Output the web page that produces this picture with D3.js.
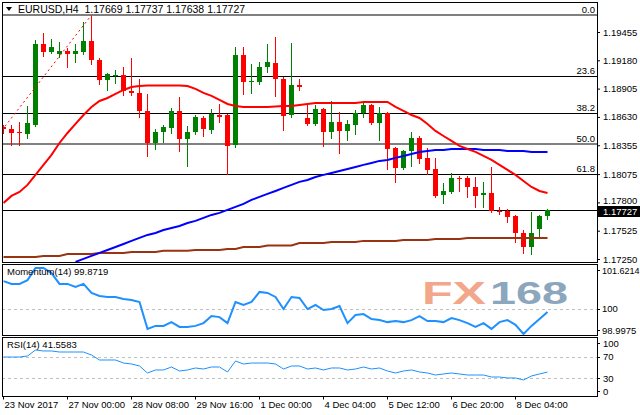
<!DOCTYPE html>
<html><head><meta charset="utf-8">
<script src="https://cdn.jsdelivr.net/npm/d3@7"></script>
<style>
html,body{margin:0;padding:0;background:#fff;}
svg{display:block;}
text{font-family:"Liberation Sans",Arial,sans-serif;font-size:9.5px;fill:#000;}
</style></head><body>
<svg id="c" width="640" height="415"></svg>
<script>
const symbol = "EURUSD,H4";
const lastOHLC = [1.17669, 1.17737, 1.17638, 1.17727];
const timeLabels = ["23 Nov 2017","27 Nov 00:00","28 Nov 08:00","29 Nov 16:00","1 Dec 00:00","4 Dec 04:00","5 Dec 12:00","6 Dec 20:00","8 Dec 04:00"];
const timeLabelIndex = [0,8,16,24,32,40,48,56,64];
const priceTicks = [1.19455,1.19180,1.18905,1.18630,1.18355,1.18075,1.17800,1.17525,1.17250];
const fibLevels = [0, 23.6, 38.2, 50.0, 61.8];
const fibHigh = 1.1962, fibLow = 1.1712;
const fibAnchorIndex = [-14, 11];
const momTicks = [101.6214, 100, 98.9975];
const rsiTicks = [100, 70, 30, 0];
const rsiLevels = [70, 30];

const openP = [1.18533,1.18513,1.18484,1.18465,1.18552,1.19338,1.19261,1.19241,1.19271,1.19241,
1.19261,1.19368,1.19183,1.18989,1.19028,1.19038,1.18882,1.18863,1.18688,1.18377,
1.18484,1.18523,1.18688,1.18416,1.18484,1.18620,1.18503,1.18649,1.18649,1.18358,
1.19232,1.18970,1.18970,1.19115,1.19154,1.18999,1.18649,1.18940,1.18620,1.18562,
1.18707,1.18484,1.18581,1.18494,1.18552,1.18668,1.18746,1.18571,1.18668,1.18329,
1.18135,1.18300,1.18426,1.18232,1.18125,1.17873,1.17902,1.18038,1.18038,1.17950,
1.17873,1.17892,1.17717,1.17717,1.17668,1.17503,1.17367,1.17542,1.17669];
const highP = [1.18552,1.18552,1.18581,1.18736,1.19377,1.19445,1.19387,1.19358,1.19300,1.19338,
1.19552,1.19610,1.19203,1.19057,1.19086,1.19115,1.19203,1.18999,1.18853,1.18513,
1.18552,1.18717,1.18824,1.18542,1.18649,1.18639,1.18707,1.18756,1.18659,1.19309,
1.19309,1.19144,1.19164,1.19338,1.19406,1.19018,1.19348,1.18999,1.18746,1.18746,
1.18717,1.18785,1.18678,1.18600,1.18698,1.18766,1.18756,1.18727,1.18678,1.18338,
1.18309,1.18484,1.18445,1.18329,1.18232,1.17989,1.18086,1.18057,1.18057,1.18047,
1.17999,1.18144,1.17756,1.17736,1.17678,1.17532,1.17707,1.17678,1.17737];
const lowP = [1.18474,1.18358,1.18358,1.18426,1.18542,1.19222,1.19251,1.19212,1.19115,1.19164,
1.19241,1.19144,1.18950,1.18892,1.18960,1.18843,1.18843,1.18630,1.18251,1.18319,
1.18387,1.18474,1.18300,1.18154,1.18465,1.18445,1.18474,1.18581,1.18076,1.18338,
1.18853,1.18863,1.18950,1.19067,1.18834,1.18503,1.18630,1.18892,1.18552,1.18552,
1.18348,1.18426,1.18280,1.18406,1.18465,1.18630,1.18562,1.18406,1.18125,1.17999,
1.18125,1.18154,1.18183,1.18076,1.17853,1.17795,1.17892,1.17911,1.17853,1.17756,
1.17756,1.17707,1.17688,1.17610,1.17416,1.17309,1.17299,1.17455,1.17638];
const closeP = [1.18513,1.18474,1.18474,1.18571,1.19338,1.19261,1.19309,1.19271,1.19241,1.19271,
1.19368,1.19183,1.18989,1.19047,1.19038,1.18882,1.18863,1.18688,1.18377,1.18484,
1.18533,1.18688,1.18416,1.18484,1.18630,1.18513,1.18659,1.18630,1.18348,1.19232,
1.18970,1.18979,1.19115,1.19164,1.18999,1.18639,1.18940,1.18921,1.18562,1.18707,
1.18484,1.18581,1.18494,1.18562,1.18668,1.18746,1.18571,1.18668,1.18319,1.18135,
1.18300,1.18426,1.18222,1.18115,1.17863,1.17911,1.18038,1.18028,1.17950,1.17863,
1.17892,1.17717,1.17707,1.17659,1.17503,1.17367,1.17503,1.17668,1.17727];

const maRed = [1.17795,1.17863,1.17902,1.17970,1.18067,1.18164,1.18261,1.18377,1.18474,1.18562,
1.18649,1.18727,1.18785,1.18814,1.18853,1.18892,1.18921,1.18931,1.18936,1.18936,
1.18936,1.18936,1.18936,1.18931,1.18902,1.18863,1.18834,1.18795,1.18756,1.18736,
1.18727,1.18727,1.18727,1.18727,1.18732,1.18736,1.18736,1.18746,1.18756,1.18766,
1.18766,1.18766,1.18766,1.18766,1.18766,1.18775,1.18775,1.18775,1.18775,1.18727,
1.18688,1.18649,1.18620,1.18562,1.18494,1.18445,1.18397,1.18348,1.18319,1.18290,
1.18251,1.18212,1.18164,1.18115,1.18067,1.18008,1.17950,1.17911,1.17892];
const maBlue = [null,null,null,null,null,null,null,null,null,1.17222,
1.17251,1.17280,1.17309,1.17338,1.17367,1.17396,1.17426,1.17455,1.17484,1.17503,
1.17532,1.17552,1.17571,1.17600,1.17620,1.17649,1.17678,1.17698,1.17727,1.17756,
1.17785,1.17824,1.17853,1.17882,1.17911,1.17941,1.17970,1.17999,1.18018,1.18047,
1.18067,1.18086,1.18105,1.18125,1.18144,1.18164,1.18183,1.18203,1.18212,1.18232,
1.18251,1.18270,1.18290,1.18300,1.18309,1.18309,1.18319,1.18319,1.18319,1.18319,
1.18309,1.18309,1.18309,1.18300,1.18300,1.18300,1.18290,1.18290,1.18290];
const maBrown = [1.17270,1.17270,1.17270,1.17270,1.17270,1.17280,1.17280,1.17280,1.17299,1.17299,
1.17299,1.17299,1.17309,1.17309,1.17309,1.17309,1.17319,1.17319,1.17319,1.17319,
1.17329,1.17329,1.17329,1.17329,1.17338,1.17338,1.17338,1.17338,1.17348,1.17348,
1.17367,1.17367,1.17367,1.17382,1.17382,1.17382,1.17382,1.17406,1.17406,1.17406,
1.17406,1.17416,1.17416,1.17416,1.17416,1.17426,1.17426,1.17426,1.17426,1.17426,
1.17435,1.17435,1.17435,1.17435,1.17445,1.17445,1.17445,1.17445,1.17455,1.17455,
1.17455,1.17455,1.17455,1.17455,1.17455,1.17455,1.17455,1.17455,1.17455];

const momentum = [101.10,100.99,100.99,101.14,101.62,101.6214,101.42,100.99,100.99,100.87,
100.99,100.63,100.51,100.47,100.47,100.39,100.35,100.27,99.20,99.32,
99.32,99.47,99.28,99.28,99.32,99.43,99.71,99.67,99.43,100.27,
100.15,100.27,100.67,100.63,100.47,99.99,100.47,100.43,99.99,100.15,
99.95,99.99,100.11,99.43,99.75,99.79,99.59,99.55,99.47,99.51,
99.47,99.55,99.71,99.51,99.51,99.47,99.63,99.55,99.43,99.28,
99.43,99.20,99.47,99.55,99.36,98.9975,99.32,99.59,99.8719];
const rsi = [69.4,69.4,69.4,71.3,82.4,80.6,80.6,78.7,78.7,78.7,
78.7,73.1,63.9,63.9,63.9,58.3,56.5,52.8,39.8,45.4,
45.4,50.9,43.5,45.4,49.1,47.2,50.9,50.9,41.7,62.0,
56.5,58.3,58.3,58.3,56.5,47.2,52.8,52.8,47.2,49.1,
45.4,49.1,49.1,45.4,47.2,50.9,47.2,49.1,43.5,39.8,
43.5,45.4,41.7,39.8,36.1,38.0,39.8,38.0,36.1,36.1,
36.1,32.4,32.4,30.6,30.6,26.9,34.3,38.0,41.5583];

// ---------- drawing ----------
const svg = d3.select("#c");
const n = closeP.length;
const idx = d3.range(n);
const L = 2, R = 597;
const P = {main:[2,262], mom:[264,335], rsi:[337,396]};

const x = d3.scaleLinear().domain([0, n-1]).range([3.5, 547.5]);
const yMain = d3.scaleLinear().domain(d3.extent(priceTicks)).range([259, 32]);
const yMom = d3.scaleLinear().domain(d3.extent(momentum)).range([334, 268]);
const yRsi = d3.scaleLinear().domain([0,100]).range([394.5, 340.5]);

svg.append("rect").attr("width",640).attr("height",415).attr("fill","#fff");
const defs = svg.append("defs");
function clip(id, top, bot){
  defs.append("clipPath").attr("id",id).append("rect")
    .attr("x",L+1).attr("y",top+1).attr("width",R-L-1).attr("height",bot-top-1);
}
clip("cm",P.main[0],P.main[1]); clip("cmo",P.mom[0],P.mom[1]); clip("cr",P.rsi[0],P.rsi[1]);

const gMain = svg.append("g").attr("clip-path","url(#cm)");
const crisp = v => Math.round(v)+0.5;

// fib levels
const fibStyle = {0:["#808080",2],23.6:["#000",1],38.2:["#000",1],50:["#808080",2],61.8:["#000",1]};
const fibPrice = l => fibHigh - (fibHigh-fibLow)*l/100;
fibLevels.forEach(l=>{
  const st = fibStyle[l];
  const yy = st[1]===1 ? crisp(yMain(fibPrice(l))) : Math.round(yMain(fibPrice(l)));
  gMain.append("line").attr("x1",L).attr("x2",R).attr("y1",yy).attr("y2",yy)
    .attr("stroke",st[0]).attr("stroke-width",st[1]);
});
// current price line
const yLast = crisp(yMain(lastOHLC[3]));
gMain.append("line").attr("x1",L).attr("x2",R).attr("y1",yLast).attr("y2",yLast)
  .attr("stroke","#000").attr("stroke-width",1);

// candles
const cg = gMain.append("g");
idx.forEach(i=>{
  const up = closeP[i] >= openP[i];
  const col = up ? "#008000" : "#ff0000";
  const cx = x(i);
  cg.append("line").attr("x1",cx).attr("x2",cx)
    .attr("y1",Math.round(yMain(highP[i]))).attr("y2",Math.round(yMain(lowP[i]))+1)
    .attr("stroke",col).attr("stroke-width",1);
  const y1 = Math.round(yMain(Math.max(openP[i],closeP[i])));
  const y2 = Math.round(yMain(Math.min(openP[i],closeP[i])));
  cg.append("rect").attr("x",cx-2.5).attr("width",5)
    .attr("y",y1).attr("height",Math.max(1,y2-y1)).attr("fill",col);
});

// moving averages
function maLine(arr, col, w){
  gMain.append("path").datum(idx)
    .attr("d", d3.line().defined(i=>arr[i]!=null).x(i=>x(i)).y(i=>yMain(arr[i])))
    .attr("fill","none").attr("stroke",col).attr("stroke-width",w);
}
maLine(maBrown,"#993311",2);
maLine(maBlue,"#0000ff",2);
maLine(maRed,"#ff0000",2);

// fib trend line (dotted)
gMain.append("line")
  .attr("x1",x(fibAnchorIndex[0])).attr("y1",yMain(fibLow))
  .attr("x2",x(fibAnchorIndex[1])).attr("y2",yMain(fibHigh))
  .attr("stroke","#ff0000").attr("stroke-width",1).attr("stroke-dasharray","2,3");

// fib labels
fibLevels.forEach(l=>{
  svg.append("text").attr("x",595).attr("y",Math.round(yMain(fibPrice(l)))-2)
    .attr("text-anchor","end").text(l.toFixed(1));
});

// title
svg.append("path").attr("d","M6,7 L12,7 L9,11 Z").attr("fill","#000");
svg.append("text").attr("x",18).attr("y",12.5).attr("xml:space","preserve")
  .style("font-size","10.5px")
  .text(symbol + "  " + lastOHLC.map(v=>v.toFixed(5)).join(" "));

// price axis
const yb = Math.round(yMain(lastOHLC[3]));
const ax = svg.append("g").attr("transform",`translate(${R},0)`)
  .call(d3.axisRight(yMain).tickValues(priceTicks).tickFormat(d3.format(".5f")).tickSize(3).tickPadding(3));
ax.select(".domain").remove();
ax.selectAll("text").style("font-family",'"Liberation Sans",Arial,sans-serif').style("font-size","9.5px")
  .attr("dy", d => (yMain(d) < yb && yb - yMain(d) < 12) ? "0.1em" : "0.32em");
// last price box
svg.append("rect").attr("x",R).attr("y",yb-4).attr("width",43).attr("height",11).attr("fill","#000");
svg.append("text").attr("x",603).attr("y",yb+5).style("fill","#fff")
  .text(lastOHLC[3].toFixed(5));

// watermark
svg.append("text").attr("x",422).attr("y",304).attr("textLength",64).attr("lengthAdjust","spacingAndGlyphs")
  .style("font-size","32px").style("font-weight","bold").style("fill","#f2a68a").text("FX");
svg.append("text").attr("x",490).attr("y",304).attr("textLength",78).attr("lengthAdjust","spacingAndGlyphs")
  .style("font-size","32px").style("font-weight","bold").style("fill","#8ca6be").text("168");

// momentum panel
const gMo = svg.append("g").attr("clip-path","url(#cmo)");
const y100 = crisp(yMom(100));
gMo.append("line").attr("x1",L).attr("x2",R).attr("y1",y100).attr("y2",y100)
  .attr("stroke","#c0c0c0").attr("stroke-dasharray","3,3");
gMo.append("path").datum(idx).attr("d",d3.line().x(i=>x(i)).y(i=>yMom(momentum[i])))
  .attr("fill","none").attr("stroke","#1e90ff").attr("stroke-width",2);
svg.append("text").attr("x",7).attr("y",275).text("Momentum(14) " + momentum[n-1].toFixed(4));
momTicks.forEach(v=>{
  const yy = Math.max(270, Math.min(330, yMom(v)));
  const t = svg.append("text").attr("x",602).attr("y",yy+3.5).text(v===100?"100":v.toFixed(4));
  if (v >= 101) t.style("font-size","9px");
  svg.append("line").attr("x1",R).attr("x2",R+3).attr("y1",crisp(yy)).attr("y2",crisp(yy)).attr("stroke","#000");
});

// RSI panel
const gR = svg.append("g").attr("clip-path","url(#cr)");
rsiLevels.forEach(v=>{
  const yy = crisp(yRsi(v));
  gR.append("line").attr("x1",L).attr("x2",R).attr("y1",yy).attr("y2",yy)
    .attr("stroke","#c0c0c0").attr("stroke-dasharray","3,3");
});
gR.append("path").datum(idx).attr("d",d3.line().x(i=>x(i)).y(i=>yRsi(rsi[i])))
  .attr("fill","none").attr("stroke","#1e90ff").attr("stroke-width",1);
svg.append("text").attr("x",7).attr("y",348).text("RSI(14) " + rsi[n-1].toFixed(4));
rsiTicks.forEach(v=>{
  const yy = Math.max(343, Math.min(391, yRsi(v)));
  svg.append("text").attr("x",603).attr("y",yy+3.5).text(v);
  svg.append("line").attr("x1",R).attr("x2",R+3).attr("y1",crisp(yy)).attr("y2",crisp(yy)).attr("stroke","#000");
});

// frames
[[P.main[0],P.main[1]],[P.mom[0],P.mom[1]],[P.rsi[0],P.rsi[1]]].forEach(p=>{
  svg.append("rect").attr("x",L+0.5).attr("y",p[0]+0.5).attr("width",R-L).attr("height",p[1]-p[0])
    .attr("fill","none").attr("stroke","#000");
});

// time axis
const xa = svg.append("g").attr("transform",`translate(0,${P.rsi[1]+0.5})`)
  .call(d3.axisBottom(x).tickValues(timeLabelIndex).tickFormat((d,i)=>timeLabels[i]).tickSize(3).tickPadding(2).offset(0));
xa.select(".domain").remove();
xa.selectAll("text").attr("text-anchor","start").attr("dx",1)
  .style("font-family",'"Liberation Sans",Arial,sans-serif').style("font-size","9.5px");
</script>
</body></html>
